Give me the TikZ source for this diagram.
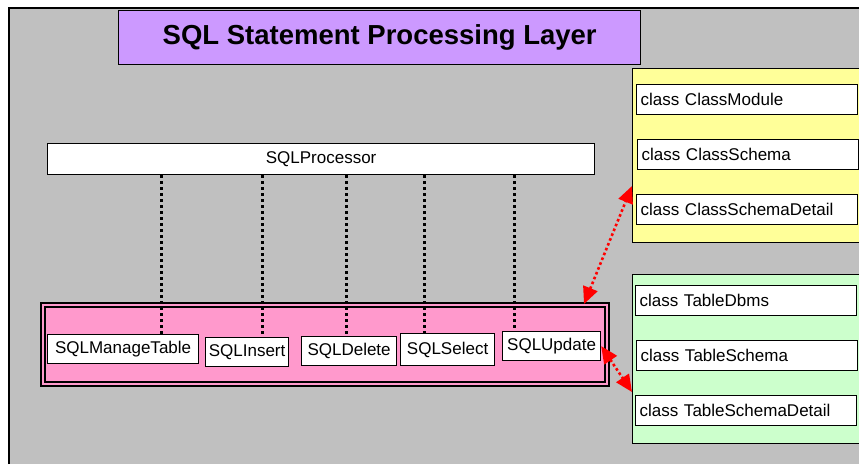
\documentclass[tikz,border=0pt]{standalone}
\usepackage{fontspec}
\setmainfont{Liberation Sans}
\usetikzlibrary{arrows.meta, positioning}

\definecolor{layergray}{HTML}{C0C0C0}
\definecolor{titlefill}{HTML}{CC99FF}
\definecolor{classfill}{HTML}{FFFF99}
\definecolor{tablefill}{HTML}{CCFFCC}
\definecolor{stmtfill}{HTML}{FF99CC}

\tikzset{
    panel/.style={
        rectangle, draw=black, line width=1.4pt, anchor=north west, inner sep=0pt
    },
    classbox/.style={
        rectangle, draw=black, line width=1.2pt, fill=white, anchor=north west,
        minimum width=221pt, minimum height=30pt,
        text width=213pt, inner xsep=4pt, align=left,
        font=\fontsize{17}{20}\selectfont
    },
    stmtbox/.style={
        rectangle, draw=black, line width=1.2pt, fill=white, anchor=north west,
        minimum height=29pt, inner xsep=2pt,
        font=\fontsize{17}{20}\selectfont
    },
    calls/.style={draw=black, line width=3pt, dash pattern=on 3pt off 3pt},
    uses/.style={draw=red, line width=2.6pt, dash pattern=on 2.6pt off 2.6pt,
        {Triangle[length=17pt,width=15pt]}-{Triangle[length=17pt,width=15pt]}}
}

\begin{document}
\begin{tikzpicture}[x=1pt, y=-1pt]
\useasboundingbox (0,0) rectangle (859,464);

% Layer background
\fill[layergray] (9,8) rectangle (859,464);
\draw[black, line width=1.2pt] (9,464) -- (9,8) -- (859,8);

% Title
\node[panel, fill=titlefill, minimum width=522pt, minimum height=54pt,
      font=\fontsize{27.5}{32}\selectfont\bfseries] (title) at (118,10)
      {SQL Statement Processing Layer};

% Class schema panel
\node[panel, fill=classfill, minimum width=240pt, minimum height=174pt] (classes) at (632,68) {};
\node[classbox] (cmod) at (636,84) {class ClassModule};
\node[classbox] (csch) at (637,139) {class ClassSchema};
\node[classbox] (cdet) at (636,194) {class ClassSchemaDetail};

% Table schema panel
\node[panel, fill=tablefill, minimum width=240pt, minimum height=169pt] (tables) at (632,274) {};
\node[classbox] (tdbms) at (635,285) {class TableDbms};
\node[classbox] (tsch) at (636,340) {class TableSchema};
\node[classbox] (tdet) at (635,395) {class TableSchemaDetail};

% Processor
\node[stmtbox, minimum width=547pt, minimum height=31pt] (proc) at (47,143) {SQLProcessor};

% Statement classes
\node[panel, fill=stmtfill, draw=black, double=stmtfill, double distance=2.5pt, line width=1.7pt,
      minimum width=564pt, minimum height=79pt] (stmts) at (42,304) {};
\node[stmtbox, minimum width=151pt] (mng) at (47,334) {SQLManageTable};
\node[stmtbox, minimum width=83pt] (ins) at (205,337) {SQLInsert};
\node[stmtbox, minimum width=95pt] (del) at (301,336) {SQLDelete};
\node[stmtbox, minimum width=94pt, minimum height=32pt] (sel) at (400,333) {SQLSelect};
\node[stmtbox, minimum width=98pt] (upd) at (502,331) {SQLUpdate};

\draw[calls] (proc.south -| 161,0) -- (mng.north -| 161,0);
\draw[calls] (proc.south -| 262,0) -- (ins.north -| 262,0);
\draw[calls] (proc.south -| 346,0) -- (del.north -| 346,0);
\draw[calls] (proc.south -| 424,0) -- (sel.north -| 424,0);
\draw[calls] (proc.south -| 514,0) -- (upd.north -| 514,0);

% Associations
\draw[uses] (stmts.north -| 584,0) -- (classes.west |- 0,186);
\draw[uses] (upd.east) -- (tables.west |- 0,392);

\end{tikzpicture}
\end{document}
